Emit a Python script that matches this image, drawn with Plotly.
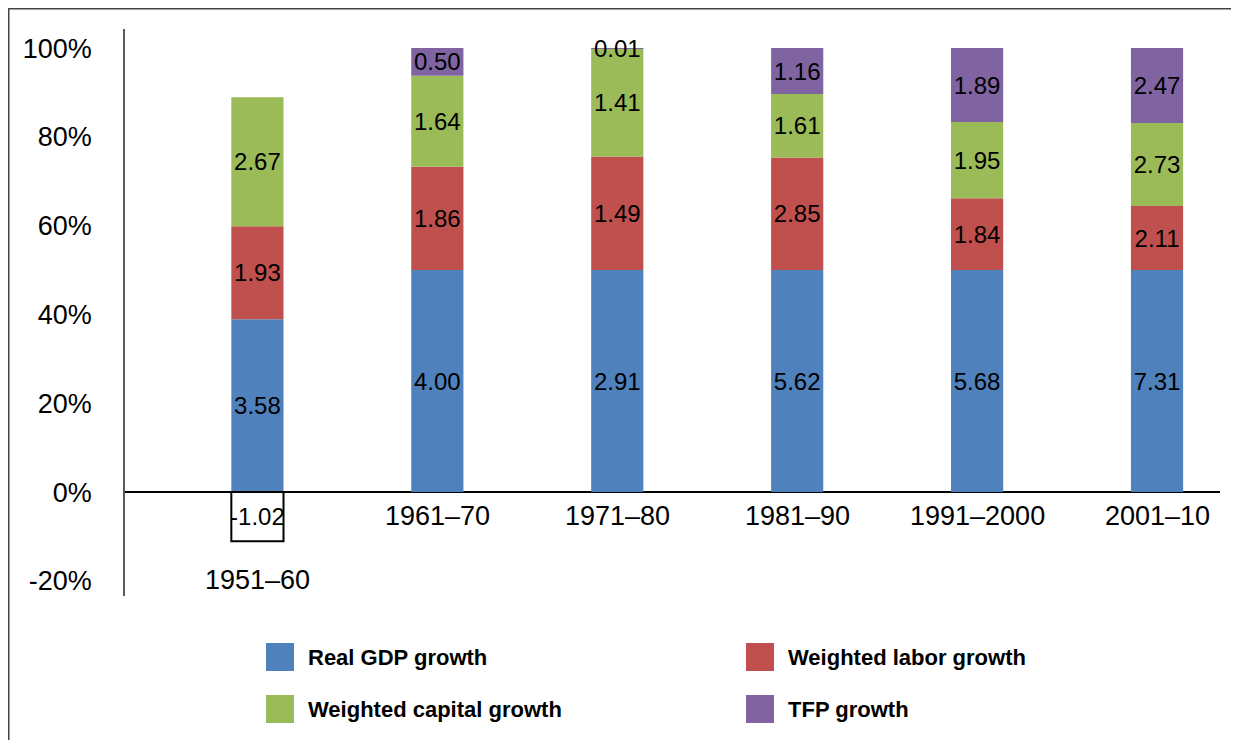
import numpy as np
import plotly.graph_objects as go

# decades and growth contributions (percentage points)
periods = ["1951–60", "1961–70", "1971–80", "1981–90", "1991–2000", "2001–10"]
gdp     = [3.58, 4.00, 2.91, 5.62, 5.68, 7.31]
labor   = [1.93, 1.86, 1.49, 2.85, 1.84, 2.11]
capital = [2.67, 1.64, 1.41, 1.61, 1.95, 2.73]
tfp     = [-1.02, 0.50, 0.01, 1.16, 1.89, 2.47]

names  = ["Real GDP growth", "Weighted labor growth", "Weighted capital growth", "TFP growth"]
series = [gdp, labor, capital, tfp]
y_ticks = [-20, 0, 20, 40, 60, 80, 100]

BLUE   = "#4F81BD"
RED    = "#C0504D"
GREEN  = "#9BBB59"
PURPLE = "#8064A2"
colors = [BLUE, RED, GREEN, PURPLE]
FONT   = "Liberation Sans, Arial, sans-serif"

# page body has an 8px margin, so the figure is 8px smaller and shifted
PW, PH = 1095, 567          # plot area in px
PL, PB = 125, 596           # plot left / bottom on the page

# 100% stacked: each value as a share of the column's absolute total
vals  = np.array(series)
share = vals / np.abs(vals).sum(axis=0) * 100

fig = go.Figure()
for name, col, v, s in zip(names, colors, series, share):
    neg = [x < 0 for x in v]
    fig.add_trace(go.Bar(
        x=periods, y=s, name=name,
        width=0.29,
        marker=dict(color=["white" if n else col for n in neg],
                    line=dict(color=["black" if n else col for n in neg],
                              width=[2 if n else 0 for n in neg])),
        text=[f"{x:.2f}" for x in v],
        textposition="inside", insidetextanchor="middle",
        constraintext="none", textangle=0,
        textfont=dict(family=FONT, size=24, color="black"),
        showlegend=False,
    ))

# category labels just below the zero line (first one pushed under the negative box)
for i, p in enumerate(periods):
    fig.add_annotation(x=p, y=-19.8 if i == 0 else -5.3, xref="x", yref="y",
                       text=p, showarrow=False,
                       font=dict(family=FONT, size=27, color="black"))

# hand-made legend, two columns
for i, (name, col) in enumerate(zip(names, colors)):
    cx = 266 if i % 2 == 0 else 746
    cy = 657 if i < 2 else 709
    fig.add_shape(type="rect", xref="paper", yref="paper",
                  x0=(cx - PL) / PW, x1=(cx + 28 - PL) / PW,
                  y0=(PB - cy - 14) / PH, y1=(PB - cy + 14) / PH,
                  fillcolor=col, line=dict(width=0))
    fig.add_annotation(xref="paper", yref="paper",
                       x=(cx + 40 - PL) / PW, y=(PB - cy) / PH,
                       xanchor="left", yanchor="middle", showarrow=False,
                       text=f"<b>{name}</b>",
                       font=dict(family=FONT, size=22, color="black"))

# outer frame (open at the bottom)
fx0, fx1, fy = (8.75 - PL) / PW, (1238 - PL) / PW, (PB - 8.75) / PH
fig.add_shape(type="path", xref="paper", yref="paper",
              path=f"M {fx0},-0.3 L {fx0},{fy} L {fx1},{fy} L {fx1},-0.3",
              line=dict(color="#444444", width=1.5))

fig.update_layout(
    barmode="relative",
    width=1231, height=732,
    margin=dict(l=117, r=19, t=21, b=144, autoexpand=False),
    plot_bgcolor="white", paper_bgcolor="white",
    font=dict(family=FONT, color="black"),
    showlegend=False,
)
fig.update_xaxes(range=[-0.736, 5.35], showticklabels=False, showgrid=False,
                 zeroline=False, showline=False, ticks="", automargin=False)
fig.update_yaxes(range=[-23.4, 104.3], tickvals=y_ticks,
                 ticktext=[f"{t}%" for t in y_ticks],
                 showgrid=False, zeroline=True, zerolinecolor="black", zerolinewidth=1.5,
                 showline=True, linecolor="#595959", linewidth=1.5, ticks="",
                 ticklabelstandoff=26, automargin=False,
                 tickfont=dict(family=FONT, size=27, color="black"))

fig.write_html("out.html")
